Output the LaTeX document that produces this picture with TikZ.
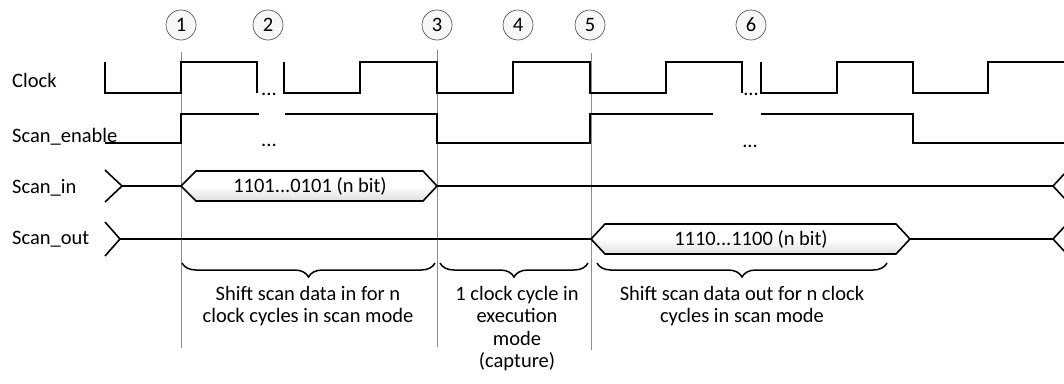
\documentclass[tikz,border=0pt]{standalone}
\usepackage{fontspec}
\setmainfont{Carlito}
\usetikzlibrary{decorations.pathreplacing}
\begin{document}
\begin{tikzpicture}[x=1pt,y=-1pt,
  sig/.style={line width=1.6pt, line join=miter},
  guide/.style={draw=black!45, line width=0.8pt},
  lbl/.style={font=\fontsize{20.5}{22.5}\selectfont, inner sep=0, anchor=base west},
  dots/.style={font=\fontsize{20.5}{22.5}\selectfont, inner sep=0, anchor=base},
  marker/.style={circle, draw=black!65, fill=black!3, line width=0.7pt, minimum size=30pt, inner sep=0, font=\fontsize{20.5}{22}\selectfont},
  bus/.style={line width=1.6pt, line join=miter, top color=white, bottom color=black!13, middle color=white},
  bustext/.style={font=\fontsize{20.5}{22.5}\selectfont, inner sep=0},
  spanbrace/.style={decorate, decoration={brace, mirror, amplitude=14pt}, line width=1.5pt},
  note/.style={font=\fontsize{20.5}{22.3}\selectfont, align=center, anchor=north, inner sep=0}
]
\useasboundingbox (0,0) rectangle (1064,383);

% event markers
\node[marker] (m1) at (181,25) {1};
\node[marker] (m2) at (268,25) {2};
\node[marker] (m3) at (437,25) {3};
\node[marker] (m4) at (518,25) {4};
\node[marker] (m5) at (590,25) {5};
\node[marker] (m6) at (751,25) {6};

% vertical phase boundaries
\coordinate (g1t) at (181,52);  \coordinate (g1b) at (181,348);
\coordinate (g3t) at (437,50);  \coordinate (g3b) at (437,347);
\coordinate (g5t) at (591,53);  \coordinate (g5b) at (591,350);
\draw[guide] (g1t) -- (g1b);
\draw[guide] (g3t) -- (g3b);
\draw[guide] (g5t) -- (g5b);

% signal names
\node[lbl] (lclk) at (12,87) {Clock};
\node[lbl] (len) at (12,142) {Scan\_enable};
\node[lbl] (lin) at (12,193) {Scan\_in};
\node[lbl] (lout) at (12,244) {Scan\_out};

% clock
\draw[sig] (105,62) -- (105,93) -- (181,93) -- (181,62) -- (257,62) -- (257,93);
\draw[sig] (284,62) -- (284,93) -- (360,93) -- (360,62) -- (437,62) -- (437,93)
  -- (513,93) -- (513,62) -- (590,62) -- (590,93) -- (666,93) -- (666,62)
  -- (742,62) -- (742,93);
\draw[sig] (761,62) -- (761,93) -- (837,93) -- (837,62) -- (913,62) -- (913,93)
  -- (988,93) -- (988,62) -- (1064,62);
\node[dots] (cd1) at (269,95) {...};
\node[dots] (cd2) at (751,95) {...};

% scan enable
\draw[sig] (105,143) -- (181,143) -- (181,114) -- (259,114);
\draw[sig] (285,114) -- (437,114) -- (437,143) -- (590,143) -- (590,114) -- (713,114);
\draw[sig] (761,114) -- (913,114) -- (913,143) -- (1064,143);
\node[dots] (ed1) at (269,146) {...};
\node[dots] (ed2) at (750,147) {...};

% scan in
\draw[sig] (105,170) -- (122,186) -- (105,202);
\draw[sig] (122,186) -- (181,186);
\draw[bus] (181,186) -- (196,171) -- (423,171) -- (437,186) -- (423,201) -- (196,201) -- cycle;
\node[bustext] (din) at (310,186) {1101...0101 (n bit)};
\draw[sig] (437,186) -- (1053,186);
\draw[sig] (1066,172) -- (1053,186) -- (1066,200);

% scan out
\draw[sig] (105,222) -- (120,239) -- (105,256);
\draw[sig] (120,239) -- (591,239);
\draw[bus] (591,239) -- (605,224) -- (896,224) -- (910,239) -- (896,254) -- (605,254) -- cycle;
\node[bustext] (dout) at (751,239) {1110...1100 (n bit)};
\draw[sig] (910,239) -- (1053,239);
\draw[sig] (1066,225) -- (1053,239) -- (1066,253);

% phase braces and descriptions
\draw[spanbrace] (182,263) -- (435,263);
\draw[spanbrace] (440,263) -- (588,263);
\draw[spanbrace] (597,263) -- (887,263);
\node[note] (n1) at (308,286) {Shift scan data in for n\\clock cycles in scan mode};
\node[note] (n2) at (517,286) {1 clock cycle in\\execution\\mode\\(capture)};
\node[note] (n3) at (742,286) {Shift scan data out for n clock\\cycles in scan mode};
\end{tikzpicture}
\end{document}
